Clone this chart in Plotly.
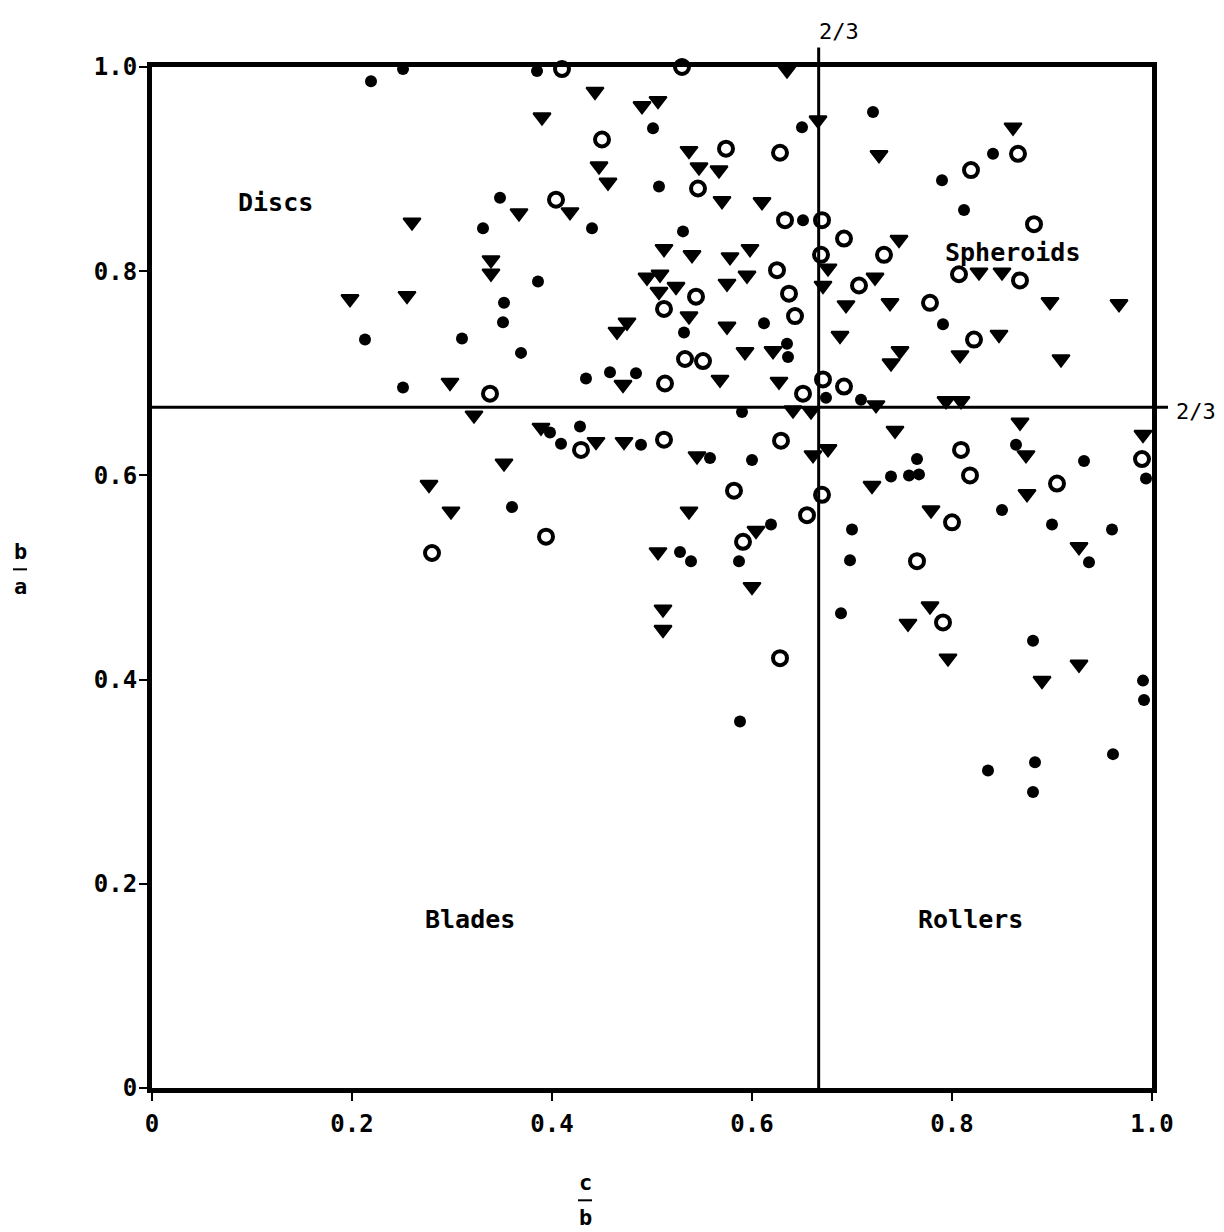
import plotly.graph_objects as go

# Zingg shape diagram: c/b (x) versus b/a (y) for three pebble groups

# --- group 1: filled circles ---
dots_cb = [0.219, 0.251, 0.385, 0.348, 0.331, 0.386, 0.352, 0.351, 0.213, 0.310,
           0.369, 0.501, 0.650, 0.721, 0.790, 0.841, 0.812, 0.507, 0.440, 0.651,
           0.531, 0.791, 0.612, 0.532, 0.635, 0.636, 0.251, 0.398, 0.434, 0.458,
           0.484, 0.674, 0.709, 0.590, 0.428, 0.409, 0.489, 0.558, 0.600, 0.765,
           0.757, 0.767, 0.739, 0.864, 0.932, 0.994, 0.850, 0.900, 0.960, 0.937,
           0.700, 0.698, 0.619, 0.528, 0.539, 0.587, 0.360, 0.689, 0.881, 0.991,
           0.992, 0.961, 0.836, 0.883, 0.881, 0.588]
dots_ba = [0.986, 0.998, 0.996, 0.872, 0.842, 0.790, 0.769, 0.750, 0.733, 0.734,
           0.720, 0.940, 0.941, 0.956, 0.889, 0.915, 0.860, 0.883, 0.842, 0.850,
           0.839, 0.748, 0.749, 0.740, 0.729, 0.716, 0.686, 0.642, 0.695, 0.701,
           0.700, 0.676, 0.674, 0.662, 0.648, 0.631, 0.630, 0.617, 0.615, 0.616,
           0.600, 0.601, 0.599, 0.630, 0.614, 0.597, 0.566, 0.552, 0.547, 0.515,
           0.547, 0.517, 0.552, 0.525, 0.516, 0.516, 0.569, 0.465, 0.438, 0.399,
           0.380, 0.327, 0.311, 0.319, 0.290, 0.359]

# --- group 2: filled down-triangles ---
tri_cb = [0.390, 0.260, 0.367, 0.339, 0.339, 0.198, 0.255, 0.635, 0.443, 0.490,
          0.506, 0.666, 0.727, 0.861, 0.537, 0.547, 0.567, 0.447, 0.456, 0.570,
          0.610, 0.418, 0.747, 0.512, 0.540, 0.578, 0.598, 0.676, 0.671, 0.495,
          0.508, 0.507, 0.524, 0.537, 0.575, 0.595, 0.723, 0.694, 0.738, 0.688,
          0.465, 0.475, 0.575, 0.593, 0.621, 0.748, 0.739, 0.827, 0.850, 0.898,
          0.967, 0.847, 0.808, 0.909, 0.298, 0.322, 0.389, 0.352, 0.277, 0.299,
          0.471, 0.568, 0.627, 0.724, 0.641, 0.659, 0.444, 0.472, 0.545, 0.661,
          0.676, 0.743, 0.794, 0.809, 0.868, 0.991, 0.874, 0.720, 0.875, 0.779,
          0.537, 0.604, 0.927, 0.506, 0.600, 0.778, 0.756, 0.511, 0.511, 0.796,
          0.927, 0.890]
tri_ba = [0.951, 0.848, 0.857, 0.811, 0.798, 0.773, 0.776, 0.997, 0.976, 0.962,
          0.967, 0.948, 0.914, 0.941, 0.918, 0.902, 0.899, 0.903, 0.887, 0.869,
          0.868, 0.858, 0.831, 0.822, 0.816, 0.814, 0.822, 0.803, 0.786, 0.794,
          0.797, 0.780, 0.785, 0.756, 0.788, 0.796, 0.794, 0.767, 0.769, 0.737,
          0.741, 0.750, 0.746, 0.721, 0.722, 0.722, 0.710, 0.799, 0.799, 0.770,
          0.768, 0.738, 0.718, 0.714, 0.691, 0.659, 0.647, 0.612, 0.591, 0.565,
          0.689, 0.694, 0.692, 0.669, 0.664, 0.663, 0.633, 0.633, 0.619, 0.620,
          0.626, 0.644, 0.673, 0.673, 0.652, 0.640, 0.620, 0.590, 0.582, 0.566,
          0.565, 0.546, 0.530, 0.525, 0.491, 0.472, 0.455, 0.469, 0.449, 0.421,
          0.415, 0.399]

# --- group 3: open circles ---
ring_cb = [0.410, 0.530, 0.450, 0.574, 0.628, 0.546, 0.404, 0.633, 0.670, 0.692,
           0.732, 0.669, 0.544, 0.512, 0.625, 0.637, 0.643, 0.707, 0.778, 0.866,
           0.819, 0.882, 0.807, 0.868, 0.822, 0.533, 0.551, 0.338, 0.513, 0.671,
           0.692, 0.651, 0.429, 0.512, 0.629, 0.809, 0.818, 0.990, 0.905, 0.582,
           0.670, 0.655, 0.800, 0.591, 0.765, 0.791, 0.628, 0.280, 0.394]
ring_ba = [0.998, 1.000, 0.929, 0.920, 0.916, 0.881, 0.870, 0.850, 0.850, 0.832,
           0.816, 0.816, 0.775, 0.763, 0.801, 0.778, 0.756, 0.786, 0.769, 0.915,
           0.899, 0.846, 0.797, 0.791, 0.733, 0.714, 0.712, 0.680, 0.690, 0.694,
           0.687, 0.680, 0.625, 0.635, 0.634, 0.625, 0.600, 0.616, 0.592, 0.585,
           0.581, 0.561, 0.554, 0.535, 0.516, 0.456, 0.421, 0.524, 0.540]

# class boundaries and axis ticks
boundary = 2 / 3
tick_vals = [0, 0.2, 0.4, 0.6, 0.8, 1.0]
tick_text = ["0", "0.2", "0.4", "0.6", "0.8", "1.0"]

# shape-class labels
class_names = ["Discs", "Spheroids", "Blades", "Rollers"]
class_cb = [0.123, 0.860, 0.318, 0.818]
class_ba = [0.867, 0.818, 0.165, 0.165]

FONT = "DejaVu Sans Mono"
INK = "black"

fig = go.Figure()

fig.add_trace(go.Scatter(
    x=dots_cb, y=dots_ba, mode="markers", cliponaxis=False,
    marker=dict(symbol="circle", size=12, color=INK, line=dict(width=0)),
))
fig.add_trace(go.Scatter(
    x=tri_cb, y=tri_ba, mode="markers", cliponaxis=False,
    marker=dict(symbol="triangle-down", size=15, color=INK,
                line=dict(width=2, color=INK)),
))
fig.add_trace(go.Scatter(
    x=ring_cb, y=ring_ba, mode="markers", cliponaxis=False,
    marker=dict(symbol="circle-open", size=14, color=INK,
                line=dict(width=4, color=INK)),
))

# 2/3 dividing lines, each running a little past the frame
fig.add_shape(type="line", x0=boundary, x1=boundary, y0=0, y1=1.019,
              xref="x", yref="paper", line=dict(color=INK, width=3))
fig.add_shape(type="line", x0=0, x1=1.016, y0=boundary, y1=boundary,
              xref="paper", yref="y", line=dict(color=INK, width=3))

annotations = [
    dict(x=boundary, y=1.019, xref="paper", yref="paper", text="2/3", showarrow=False,
         xanchor="center", yanchor="bottom", xshift=20, yshift=2,
         font=dict(family=FONT, size=22, color=INK)),
    dict(x=1.016, y=boundary, xref="paper", yref="paper", text="2/3", showarrow=False,
         xanchor="left", yanchor="middle", xshift=6, yshift=-4,
         font=dict(family=FONT, size=22, color=INK)),
]
for name, cx, cy in zip(class_names, class_cb, class_ba):
    annotations.append(dict(
        x=cx, y=cy, xref="x", yref="y", text=name, showarrow=False,
        xanchor="center", yanchor="middle",
        font=dict(family=FONT, size=25, color=INK, weight="bold")))

# axis titles written as stacked fractions
frac_font = dict(family=FONT, size=22, color=INK, weight="bold")
annotations += [
    dict(x=-0.132, y=0.511, xref="paper", yref="paper", text="b", showarrow=False,
         xanchor="center", yanchor="bottom", font=frac_font),
    dict(x=-0.132, y=0.505, xref="paper", yref="paper", text="a", showarrow=False,
         xanchor="center", yanchor="top", font=frac_font),
    dict(x=0.433, y=-0.107, xref="paper", yref="paper", text="c", showarrow=False,
         xanchor="center", yanchor="bottom", font=frac_font),
    dict(x=0.433, y=-0.113, xref="paper", yref="paper", text="b", showarrow=False,
         xanchor="center", yanchor="top", font=frac_font),
]
fig.add_shape(type="line", xref="paper", yref="paper",
              x0=-0.139, x1=-0.125, y0=0.508, y1=0.508, line=dict(color=INK, width=2))
fig.add_shape(type="line", xref="paper", yref="paper",
              x0=0.426, x1=0.440, y0=-0.110, y1=-0.110, line=dict(color=INK, width=2))

axis_common = dict(
    range=[0, 1], tickvals=tick_vals, ticktext=tick_text,
    showgrid=False, zeroline=False, showline=True, linewidth=5, linecolor=INK,
    mirror=True, ticks="outside", ticklen=8, tickwidth=2, tickcolor=INK,
    tickfont=dict(family=FONT, size=24, color=INK, weight="bold"),
)

fig.update_layout(
    width=1224, height=1232,
    margin=dict(l=152, r=72, t=67, b=144),
    paper_bgcolor="white", plot_bgcolor="white",
    showlegend=False,
    xaxis=dict(**axis_common, ticklabelstandoff=2),
    yaxis=dict(**axis_common, ticklabelstandoff=-3),
    annotations=annotations,
)

fig.write_html("out.html")
